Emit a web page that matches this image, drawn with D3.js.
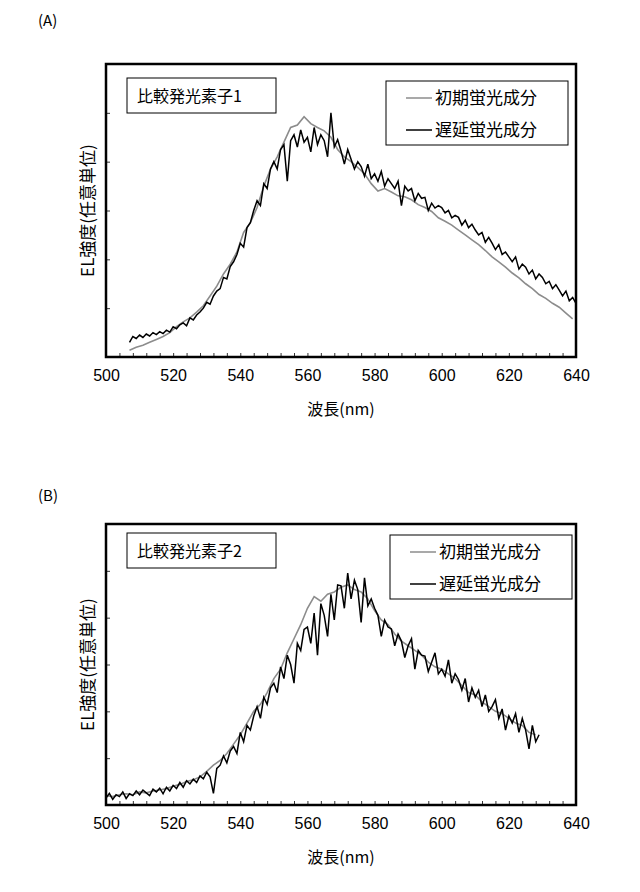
<!DOCTYPE html>
<html><head><meta charset="utf-8">
<script src="https://cdn.jsdelivr.net/npm/d3@7"></script>
<style>body{margin:0;background:#fff}text{font-family:"Noto Sans CJK JP","Noto Sans",sans-serif}</style>
</head><body><div id="chart"></div>
<script>
// wavelength ticks
const xTicks = [500, 520, 540, 560, 580, 600, 620, 640];
const seriesNames = ["初期蛍光成分", "遅延蛍光成分"];

// panel A: 比較発光素子1
const aGrayStart = 507, aGrayStep = 2;
const aGray = [0.14,0.20,0.24,0.30,0.36,0.42,0.50,0.62,0.72,0.80,0.92,1.05,1.25,1.45,1.70,1.90,2.15,2.55,2.75,3.06,3.50,3.85,4.10,4.40,4.70,4.75,4.92,4.78,4.70,4.63,4.50,4.25,4.10,4.00,3.88,3.75,3.55,3.40,3.45,3.38,3.30,3.28,3.22,3.12,3.06,2.98,2.85,2.78,2.70,2.60,2.50,2.40,2.30,2.18,2.05,1.95,1.84,1.72,1.62,1.50,1.40,1.28,1.20,1.10,1.02,0.90,0.78];
const aBlackStart = 507, aBlackStep = 1;
const aBlack = [0.30,0.42,0.38,0.45,0.40,0.47,0.43,0.50,0.46,0.52,0.48,0.55,0.51,
0.62,0.58,0.66,0.70,0.64,0.80,0.76,0.86,0.92,1.00,
1.12,1.08,1.25,1.35,1.40,1.63,1.60,1.85,1.95,2.10,
2.33,2.25,2.65,2.75,3.00,3.20,3.10,3.55,3.45,3.85,
4.00,3.85,4.25,4.35,3.60,4.43,4.55,4.30,4.65,4.40,
4.50,4.20,4.70,4.35,4.55,4.43,4.10,5.00,4.30,4.45,
4.22,3.95,4.25,4.05,3.85,4.00,3.90,3.70,3.95,3.65,
3.75,3.60,3.80,3.50,3.65,3.55,3.45,3.60,3.10,3.50,
3.40,3.45,3.20,3.35,3.25,3.27,3.00,3.15,3.05,3.10,
3.06,2.95,3.00,2.85,2.90,2.86,2.70,2.80,2.65,2.72,
2.60,2.50,2.55,2.35,2.45,2.33,2.20,2.30,2.10,2.15,
2.05,1.95,2.05,1.80,1.90,1.84,1.70,1.78,1.60,1.70,
1.63,1.50,1.55,1.40,1.48,1.37,1.25,1.35,1.15,1.22,
1.10];

// panel B: 比較発光素子2
const bGrayStart = 500, bGrayStep = 2;
const bGray = [0.20,0.18,0.22,0.24,0.22,0.28,0.26,0.30,0.32,0.35,0.40,0.44,0.50,0.54,0.60,0.72,0.85,0.95,1.10,1.30,1.50,1.75,2.00,2.15,2.40,2.70,2.90,3.25,3.55,3.85,4.20,4.45,4.35,4.50,4.55,4.65,4.70,4.60,4.55,4.40,4.15,3.95,3.85,3.65,3.50,3.40,3.30,3.20,3.05,2.95,2.90,2.80,2.70,2.55,2.40,2.35,2.20,2.10,2.00,1.95,1.85,1.75,1.70,1.55,1.50];
const bBlackStart = 500, bBlackStep = 1;
const bBlack = [0.15,0.25,0.12,0.22,0.18,0.28,0.14,0.24,0.20,0.30,
0.22,0.32,0.26,0.20,0.34,0.28,0.36,0.24,0.38,0.30,
0.42,0.35,0.48,0.38,0.52,0.45,0.55,0.48,0.62,0.56,
0.70,0.60,0.25,0.78,0.85,1.05,0.90,1.15,1.25,1.10,
1.55,1.35,1.70,1.60,1.90,2.10,1.85,2.30,2.15,2.50,
2.60,2.40,2.95,2.70,3.20,3.00,2.60,3.45,3.30,3.75,
3.80,3.45,4.10,3.20,4.30,4.05,3.60,4.50,3.95,4.70,
4.68,4.20,4.95,4.40,4.80,4.60,3.90,4.85,4.25,4.40,
4.20,4.05,3.60,3.95,3.80,3.76,3.40,3.65,3.50,3.15,
3.40,3.55,2.90,3.30,3.20,3.18,2.85,3.05,3.25,2.80,
2.90,2.75,3.10,2.60,2.80,2.68,2.45,2.70,2.20,2.50,
2.30,2.45,2.10,2.35,2.00,2.10,2.25,1.85,2.05,1.60,
1.90,1.75,1.95,1.55,1.85,1.60,1.20,1.70,1.35,1.50];

const W = 640, H = 892;
const svg = d3.select("#chart").append("svg").attr("width", W).attr("height", H);

function panel(opt) {
  const x = d3.scaleLinear().domain([500, 640]).range([106, 576]);
  const y = d3.scaleLinear().domain([0, 6]).range([opt.bottom, opt.top]);
  const g = svg.append("g");

  g.append("text").attr("x", 38).attr("y", opt.tagY).attr("font-size", 15).text(opt.tag);

  // minor ticks every 4 nm, inward
  g.append("g").attr("transform", `translate(0,${opt.bottom})`)
    .call(d3.axisBottom(x).tickValues(d3.range(504, 640, 4)).tickSize(-4).tickFormat(""))
    .call(a => a.select(".domain").remove())
    .selectAll("line").attr("stroke", "#333");
  g.append("g").attr("transform", `translate(0,${opt.bottom})`)
    .call(d3.axisBottom(x).tickValues(xTicks).tickSize(0).tickPadding(13))
    .call(a => a.select(".domain").remove())
    .selectAll("text").attr("font-size", 16).attr("fill", "#000")
    .style("font-family", "Arial, 'Liberation Sans', sans-serif");
  g.append("g").attr("transform", "translate(106,0)")
    .call(d3.axisLeft(y).tickValues([1, 2, 3, 4, 5]).tickSize(-4).tickFormat(""))
    .call(a => a.select(".domain").remove())
    .selectAll("line").attr("stroke", "#333");

  const line = d3.line().x(d => x(d[0])).y(d => y(d[1]));
  const toPts = (start, step, vals) => vals.map((v, i) => [start + i * step, v]);
  const clip = "clip" + opt.tag.replace(/\W/g, "");
  g.append("clipPath").attr("id", clip).append("rect")
    .attr("x", 106).attr("y", opt.top).attr("width", 470).attr("height", opt.bottom - opt.top);
  g.append("path").datum(toPts(...opt.gray)).attr("d", line)
    .attr("fill", "none").attr("stroke", "#8c8c8c").attr("stroke-width", 1.6).attr("clip-path", `url(#${clip})`);
  g.append("path").datum(toPts(...opt.black)).attr("d", line)
    .attr("fill", "none").attr("stroke", "#000").attr("stroke-width", 1.5).attr("clip-path", `url(#${clip})`);

  g.append("rect").attr("x", 106).attr("y", opt.top).attr("width", 470).attr("height", opt.bottom - opt.top)
    .attr("fill", "none").attr("stroke", "#000").attr("stroke-width", 2.5);

  // sample label box
  g.append("rect").attr("x", 127).attr("y", opt.labelY).attr("width", 149).attr("height", 35)
    .attr("fill", "#fff").attr("stroke", "#000").attr("stroke-width", 1);
  g.append("text").attr("x", 137).attr("y", opt.labelY + 24).attr("font-size", 16).text(opt.label);

  // legend
  g.append("rect").attr("x", opt.legX).attr("y", opt.legY).attr("width", 182).attr("height", 64)
    .attr("fill", "#fff").attr("stroke", "#000").attr("stroke-width", 1);
  seriesNames.forEach((n, i) => {
    const ly = opt.legY + 17 + i * 32;
    g.append("line").attr("x1", opt.legX + 20).attr("x2", opt.legX + 46).attr("y1", ly).attr("y2", ly)
      .attr("stroke", i ? "#000" : "#8c8c8c").attr("stroke-width", 1.5);
    g.append("text").attr("x", opt.legX + 49).attr("y", ly + 6).attr("font-size", 17).text(n);
  });

  g.append("text").attr("x", 341).attr("y", opt.bottom + 58).attr("text-anchor", "middle")
    .attr("font-size", 16).text("波長(nm)");
  g.append("text").attr("transform", `translate(94,${(opt.top + opt.bottom) / 2}) rotate(-90)`)
    .attr("text-anchor", "middle").attr("font-size", 17).text("EL強度(任意単位)");
}

panel({tag: "(A)", tagY: 26, top: 64, bottom: 357, labelY: 78, label: "比較発光素子1",
  legX: 386, legY: 81, gray: [aGrayStart, aGrayStep, aGray], black: [aBlackStart, aBlackStep, aBlack]});
panel({tag: "(B)", tagY: 501, top: 524, bottom: 805, labelY: 533, label: "比較発光素子2",
  legX: 390, legY: 535, gray: [bGrayStart, bGrayStep, bGray], black: [bBlackStart, bBlackStep, bBlack]});
</script></body></html>
